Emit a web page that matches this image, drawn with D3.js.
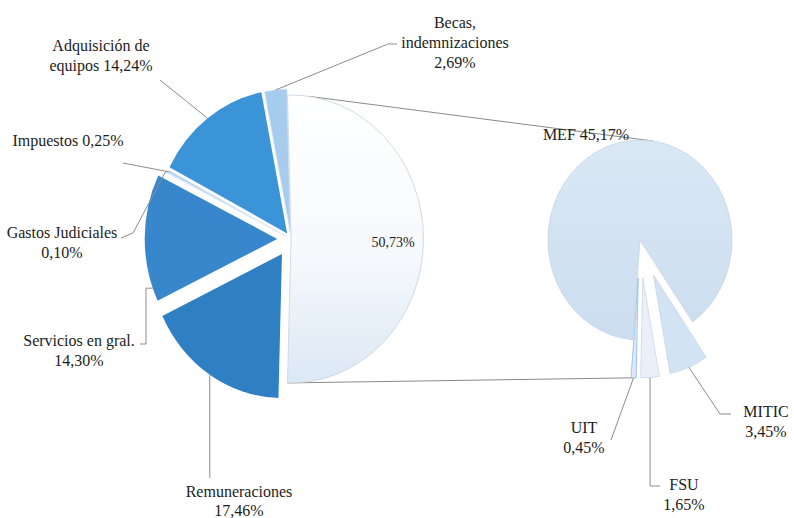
<!DOCTYPE html>
<html lang="es">
<head>
<meta charset="utf-8">
<script src="https://cdnjs.cloudflare.com/ajax/libs/d3/7.8.5/d3.min.js"></script>
<style>
body { margin: 0; background: #fff; }
svg text { font-family: "Liberation Serif", "Tinos", "Times New Roman", serif; font-size: 16px; fill: #1c1c1c; }
</style>
</head>
<body>
<div id="chart"></div>
<script>
// pastel principal (el primero es el resto que se abre en el segundo pastel)
var leftCats = ["Otros", "Remuneraciones", "Servicios en gral.", "Gastos Judiciales", "Impuestos", "Adquisición de equipos", "Becas, indemnizaciones"];
var leftVals = [50.73, 17.46, 14.30, 0.10, 0.25, 14.24, 2.69];

// segundo pastel
var rightCats = ["MEF", "MITIC", "FSU", "UIT"];
var rightVals = [45.17, 3.45, 1.65, 0.45];

var leftColors = ["url(#gOtros)", "#2f7fc3", "#3887cc", "#6aa9de", "#a9cdee", "#3b93d8", "#a8cced"];
var leftExplode = [0, 18, 15, 8, 4, 7, 6];
var rightColors = ["url(#gMef)", "#d2e3f3", "#ebf0f8", "#dce8f6"];
var rightExplode = [0, 38, 38, 38];

var W = 794, H = 518;
var L = {cx: 291, cy: 239, r: 144, sx: 0.92};
var R = {cx: 640, cy: 240, r: 100, sx: 0.92};
var rad = Math.PI / 180;

function pct(v) { return v.toFixed(2).replace(".", ",") + "%"; }

var svg = d3.select("#chart").append("svg")
	.attr("width", W)
	.attr("height", H);

var defs = svg.append("defs");
var g1 = defs.append("linearGradient").attr("id", "gOtros").attr("x1", 0).attr("y1", 0).attr("x2", 0).attr("y2", 1);
g1.append("stop").attr("offset", "0%").attr("stop-color", "#ffffff");
g1.append("stop").attr("offset", "55%").attr("stop-color", "#f6f9fc");
g1.append("stop").attr("offset", "100%").attr("stop-color", "#dbe8f5");
var g2 = defs.append("linearGradient").attr("id", "gMef").attr("x1", 0).attr("y1", 0).attr("x2", 0).attr("y2", 1);
g2.append("stop").attr("offset", "0%").attr("stop-color", "#dae8f5");
g2.append("stop").attr("offset", "100%").attr("stop-color", "#cbddef");

// el resto queda centrado a las 3 en punto
var leftTotal = d3.sum(leftVals);
var otherSpan = leftVals[0] / leftTotal * 2 * Math.PI;
var leftStart = Math.PI / 2 - otherSpan / 2;
var leftArcs = d3.pie().sort(null).startAngle(leftStart).endAngle(leftStart + 2 * Math.PI)(leftVals);

var rightStart = 184.5 * rad;
var rightArcs = d3.pie().sort(null).startAngle(rightStart).endAngle(rightStart + 2 * Math.PI)(rightVals);

function mid(d) { return (d.startAngle + d.endAngle) / 2; }

// punto en el borde de una porcion (ya desplazada)
function edgePt(P, d, e, a) {
	var m = mid(d);
	return [P.cx + P.sx * (e * Math.sin(m) + P.r * Math.sin(a)),
		P.cy - (e * Math.cos(m) + P.r * Math.cos(a))];
}

function drawPie(P, arcs, colors, explode, strokes) {
	var arc = d3.arc().innerRadius(0).outerRadius(P.r);
	var g = svg.append("g")
		.attr("transform", "translate(" + P.cx + "," + P.cy + ") scale(" + P.sx + ",1)");
	g.selectAll("path")
		.data(arcs)
		.enter().append("path")
		.attr("transform", function(d, i) {
			var m = mid(d);
			return "translate(" + (explode[i] * Math.sin(m)) + "," + (-explode[i] * Math.cos(m)) + ")";
		})
		.attr("d", arc)
		.attr("fill", function(d, i) { return colors[i]; })
		.attr("stroke", function(d, i) { return strokes[i]; })
		.attr("stroke-width", 0.8)
		.attr("vector-effect", "non-scaling-stroke");
}

// lineas de union entre los dos pasteles
var lineTop = [edgePt(L, leftArcs[0], 0, 8 * rad), edgePt(R, rightArcs[0], 0, 8 * rad)];
var lineBot = [edgePt(L, leftArcs[0], 0, leftArcs[0].endAngle), edgePt(R, rightArcs[3], rightExplode[3], mid(rightArcs[3]))];
var line = d3.line();
svg.append("path").attr("d", line(lineTop)).attr("fill", "none").attr("stroke", "#8a8a8a").attr("stroke-width", 1);
svg.append("path").attr("d", line(lineBot)).attr("fill", "none").attr("stroke", "#8a8a8a").attr("stroke-width", 1);

drawPie(L, leftArcs, leftColors, leftExplode, ["#c9d0d8", "none", "none", "#e8f1fa", "#e0ecf8", "none", "#cfe1f3"]);
drawPie(R, rightArcs, rightColors, rightExplode, ["#c6d3e0", "#c6d6e6", "#c9d6e6", "#8fbbe6"]);

// etiquetas
var leftLabels = {
	"Becas, indemnizaciones": {lines: ["Becas,", "indemnizaciones"], x: 455, y: 28,
		leader: function(p) { return [p, [388, 44], [397, 44]]; }},
	"Adquisición de equipos": {lines: ["Adquisición de", "equipos"], x: 101, y: 51, inline: true,
		leader: function(p) { return [p, [160, 80]]; }},
	"Impuestos": {lines: ["Impuestos"], x: 68, y: 146, inline: true,
		leader: function(p) { return [p, [123, 163]]; }},
	"Gastos Judiciales": {lines: ["Gastos Judiciales"], x: 62, y: 238,
		leader: function(p) { return [p, [133, 233], [121, 238]]; }},
	"Servicios en gral.": {lines: ["Servicios en gral."], x: 79, y: 346, angle: 250,
		leader: function(p) { return [p, [146, p[1]], [146, 344], [140, 344]]; }},
	"Remuneraciones": {lines: ["Remuneraciones"], x: 239, y: 497, gap: 19,
		leader: function(p) { return [p, [p[0], 478]]; }}
};

var rightLabels = {
	"MITIC": {lines: ["MITIC"], x: 766, y: 417,
		leader: function(p) { return [p, [720, 414], [731, 414]]; }},
	"FSU": {lines: ["FSU"], x: 684, y: 490,
		leader: function(p) { return [p, [p[0], 486], [660, 486]]; }},
	"UIT": {lines: ["UIT"], x: 584, y: 433,
		leader: function(p) { return [p, [611, 440]]; }}
};

function drawLabels(P, arcs, cats, vals, explode, labels) {
	arcs.forEach(function(d, i) {
		var lab = labels[cats[i]];
		if (!lab) return;
		var a = lab.angle !== undefined ? lab.angle * rad : mid(d);
		var p = edgePt(P, d, explode[i], a);
		svg.append("path")
			.attr("d", line(lab.leader(p)))
			.attr("fill", "none")
			.attr("stroke", "#8c8c8c")
			.attr("stroke-width", 1);
		var lines = lab.lines.slice();
		if (lab.inline) lines[lines.length - 1] += " " + pct(vals[i]);
		else lines.push(pct(vals[i]));
		var gap = lab.gap || 20;
		var t = svg.append("text").attr("text-anchor", "middle");
		lines.forEach(function(s, k) {
			t.append("tspan").attr("x", lab.x).attr("y", lab.y + k * gap).text(s);
		});
	});
}

drawLabels(L, leftArcs, leftCats, leftVals, leftExplode, leftLabels);
drawLabels(R, rightArcs, rightCats, rightVals, rightExplode, rightLabels);

// valores de dentro / encima
svg.append("text")
	.attr("x", 393).attr("y", 247)
	.attr("text-anchor", "middle")
	.style("font-size", "14px")
	.text(pct(leftVals[0]));

svg.append("text")
	.attr("x", 586).attr("y", 140)
	.attr("text-anchor", "middle")
	.text(rightCats[0] + " " + pct(rightVals[0]));
</script>
</body>
</html>
